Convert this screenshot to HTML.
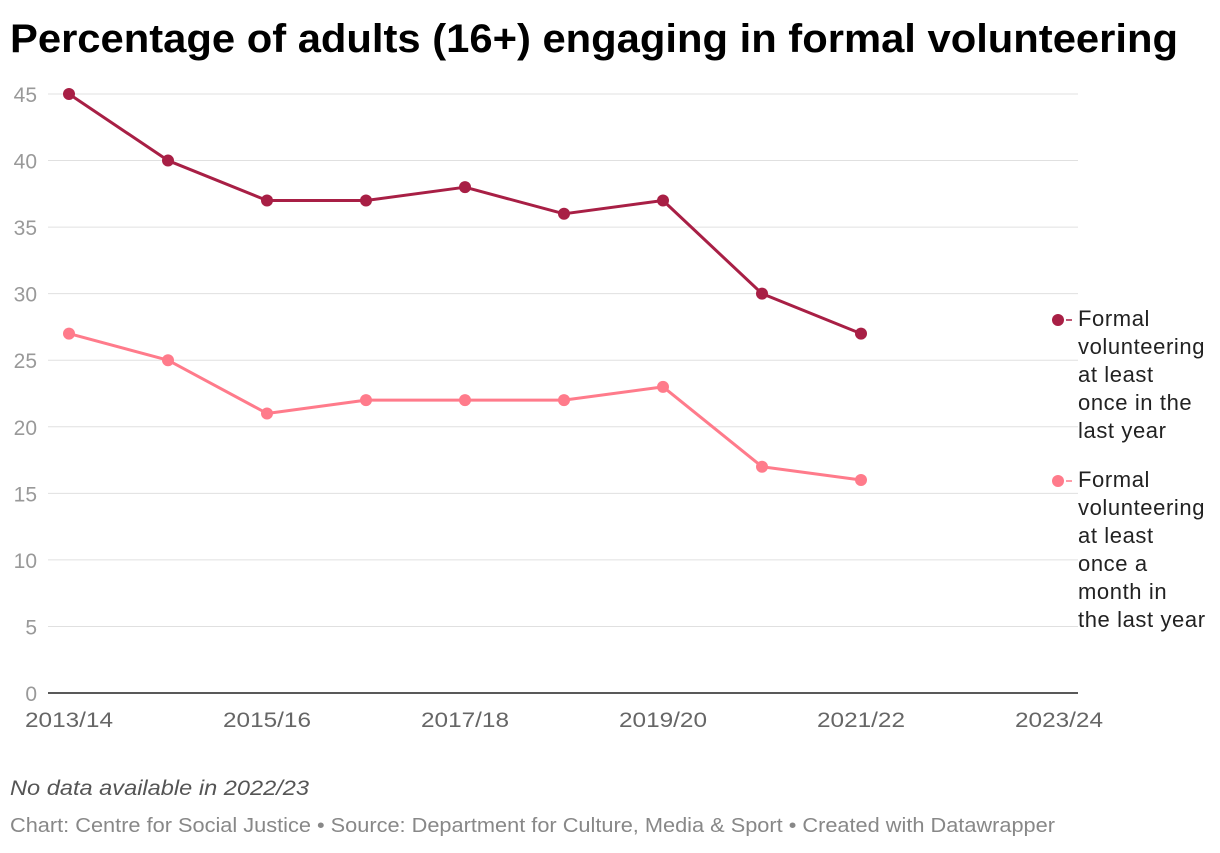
<!DOCTYPE html>
<html><head><meta charset="utf-8"><style>
body{margin:0;background:#fff;font-family:"Liberation Sans",Arial,sans-serif;}
svg text{font-family:"Liberation Sans",Arial,sans-serif;}
</style></head><body>
<svg id="chart" width="1220" height="848">
<text x="10" y="52" font-size="40" font-weight="bold" fill="#000" textLength="1168" lengthAdjust="spacingAndGlyphs">Percentage of adults (16+) engaging in formal volunteering</text>
<g id="grid"></g><g id="series"></g>
<text x="10" y="795" font-size="21" font-style="italic" fill="#555" textLength="299" lengthAdjust="spacingAndGlyphs">No data available in 2022/23</text>
<text x="10" y="832" font-size="20" fill="#888" textLength="1045" lengthAdjust="spacingAndGlyphs">Chart: Centre for Social Justice • Source: Department for Culture, Media &amp; Sport • Created with Datawrapper</text>
</svg>
<script>
const categories=["2013/14","2014/15","2015/16","2016/17","2017/18","2018/19","2019/20","2020/21","2021/22"];
const yearly=[45,40,37,37,38,36,37,30,27];
const monthly=[27,25,21,22,22,22,23,17,16];
const yTicks=[0,5,10,15,20,25,30,35,40,45];
const xTickLabels=["2013/14","2015/16","2017/18","2019/20","2021/22","2023/24"];
const ns="http://www.w3.org/2000/svg";
const x=i=>69+i*99;
const y=v=>693-v*(599/45);
function mk(t,a,p){const e=document.createElementNS(ns,t);for(const k in a)e.setAttribute(k,a[k]);p.appendChild(e);return e;}
const g=document.getElementById('grid'),s=document.getElementById('series');
yTicks.forEach(v=>{
 if(v>0){const l=mk('line',{x1:48,x2:1078,y1:y(v),y2:y(v),stroke:'#e0e0e0','stroke-width':1},g);
 
 }
 const t=mk('text',{x:37,y:y(v)+8,'text-anchor':'end','font-size':21,fill:'#999'},g);t.textContent=v;
 
 
});
const base=mk('line',{x1:48,x2:1078,y1:693,y2:693,stroke:'#222','stroke-width':1.5},g);


xTickLabels.forEach((lab,j)=>{
 const t=mk('text',{x:x(j*2),y:727,'text-anchor':'middle','font-size':21,fill:'#666',textLength:88,lengthAdjust:'spacingAndGlyphs'},g);t.textContent=lab;
 
 
});
function drawSeries(vals,color,name){
 const p=mk('polyline',{points:vals.map((v,i)=>x(i)+','+y(v)).join(' '),fill:'none',stroke:color,'stroke-width':3,'stroke-linejoin':'round'},s);
 
 
 vals.forEach((v,i)=>{const c=mk('circle',{cx:x(i),cy:y(v),r:6,fill:color},s);
 
 });
}
drawSeries(yearly,'#a81f45','yearly');
drawSeries(monthly,'#ff7b8b','monthly');
function legend(cy,color,lines,name){
 const c=mk('circle',{cx:1058,cy:cy,r:6,fill:color},s);
 
 
 mk('line',{x1:1066,x2:1072,y1:cy,y2:cy,stroke:color,'stroke-width':1.5},s);
 const t=mk('text',{x:1078,y:cy+6,'font-size':22,fill:'#222','letter-spacing':0.6},s);
 
 
 lines.forEach((ln,k)=>{const ts=mk('tspan',{x:1078,dy:k?28:0},t);ts.textContent=ln;});
}
legend(320,'#a81f45',["Formal","volunteering","at least","once in the","last year"],'yearly');
legend(481,'#ff7b8b',["Formal","volunteering","at least","once a","month in","the last year"],'monthly');
</script>
</body></html>
